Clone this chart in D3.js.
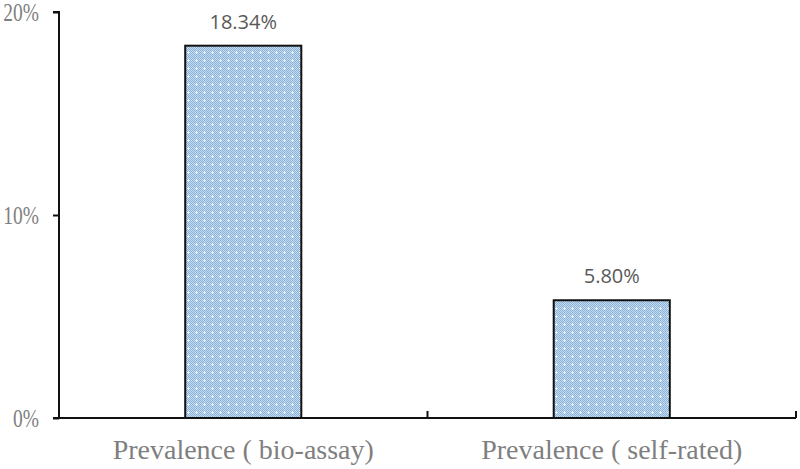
<!DOCTYPE html>
<html>
<head>
<meta charset="utf-8">
<script src="https://cdn.jsdelivr.net/npm/d3@7"></script>
<style>
  html, body { margin: 0; padding: 0; background: #fff; }
  svg { display: block; }
</style>
</head>
<body>
<div id="chart"></div>
<script>
// data
const categories = ["Prevalence ( bio-assay)", "Prevalence ( self-rated)"];
const prevalence = [18.34, 5.80];
const yTicks = [0, 10, 20];

const width = 800, height = 469;
const margin = { left: 59, right: 4, top: 12, bottom: 51 };

const svg = d3.select("#chart").append("svg")
  .attr("width", width)
  .attr("height", height);

// dotted blue fill like the original
const defs = svg.append("defs");
const pat = defs.append("pattern")
  .attr("id", "dots")
  .attr("patternUnits", "userSpaceOnUse")
  .attr("width", 8).attr("height", 8);
pat.append("rect").attr("width", 8).attr("height", 8).attr("fill", "#c8dcef");
for (let i = 0; i < 8; i++) {
  for (let j = 0; j < 8; j++) {
    if ((i + j) % 2 === 0) {
      pat.append("rect").attr("x", i).attr("y", j).attr("width", 1).attr("height", 1).attr("fill", "#8ab3da");
    }
  }
}
// small white cross
pat.append("rect").attr("x", 3).attr("y", 4).attr("width", 3).attr("height", 1).attr("fill", "#eef5fb");
pat.append("rect").attr("x", 4).attr("y", 3).attr("width", 1).attr("height", 3).attr("fill", "#eef5fb");

const x = d3.scaleBand()
  .domain(categories)
  .range([margin.left, width - margin.right])
  .paddingInner(0)
  .paddingOuter(0);

const y = d3.scaleLinear()
  .domain([0, 20])
  .range([height - margin.bottom, margin.top]);

const barW = x.bandwidth() * 0.315;

// bars
svg.selectAll("rect.bar")
  .data(categories)
  .join("rect")
  .attr("class", "bar")
  .attr("x", d => x(d) + x.bandwidth() / 2 - barW / 2)
  .attr("y", (d, i) => y(prevalence[i]))
  .attr("width", barW)
  .attr("height", (d, i) => y(0) - y(prevalence[i]))
  .attr("fill", "url(#dots)")
  .attr("stroke", "#111")
  .attr("stroke-width", 2);

// value labels
svg.selectAll("text.val")
  .data(categories)
  .join("text")
  .attr("class", "val")
  .attr("x", d => x(d) + x.bandwidth() / 2)
  .attr("y", (d, i) => y(prevalence[i]) - 17)
  .attr("text-anchor", "middle")
  .attr("font-family", "'Open Sans', 'Noto Sans', sans-serif")
  .attr("font-size", "20px")
  .attr("fill", "#595959")
  .text((d, i) => prevalence[i].toFixed(2) + "%");

// y axis (tick labels are a narrow serif in the original, so squeeze them)
const squeeze = 0.78;
const yAxis = svg.append("g")
  .attr("transform", `translate(${margin.left},0)`)
  .call(d3.axisLeft(y).tickValues(yTicks).tickSize(6).tickFormat(d => d + "%"));
yAxis.attr("font-family", null);
yAxis.select(".domain").attr("stroke", "#111").attr("stroke-width", 2)
  .attr("d", `M-6,${y(20)}H0V${y(0)}`);
yAxis.selectAll(".tick line").attr("stroke", "#111").attr("stroke-width", 2);
yAxis.selectAll(".tick text")
  .attr("x", -20 / squeeze)
  .attr("dy", "0.35em")
  .attr("transform", `scale(${squeeze},1)`)
  .style("font-family", "'Liberation Serif', 'Times New Roman', serif")
  .style("font-size", "25px")
  .attr("fill", "#7f7f7f");

// x axis with ticks at band edges pointing up
const xAxisG = svg.append("g")
  .attr("transform", `translate(0,${y(0)})`);
xAxisG.append("line")
  .attr("x1", margin.left - 6).attr("x2", width - margin.right)
  .attr("stroke", "#111").attr("stroke-width", 2);
const edges = categories.map(c => x(c) + x.bandwidth());
xAxisG.selectAll("line.edge")
  .data(edges)
  .join("line")
  .attr("class", "edge")
  .attr("x1", d => d).attr("x2", d => d)
  .attr("y1", 0).attr("y2", -7)
  .attr("stroke", "#111").attr("stroke-width", 2);

// category labels
xAxisG.selectAll("text.cat")
  .data(categories)
  .join("text")
  .attr("class", "cat")
  .attr("x", d => x(d) + x.bandwidth() / 2)
  .attr("y", 41)
  .attr("text-anchor", "middle")
  .style("font-family", "'Liberation Serif', 'Times New Roman', serif")
  .style("font-size", "28px")
  .attr("fill", "#7f7f7f")
  .text(d => d);
</script>
</body>
</html>
